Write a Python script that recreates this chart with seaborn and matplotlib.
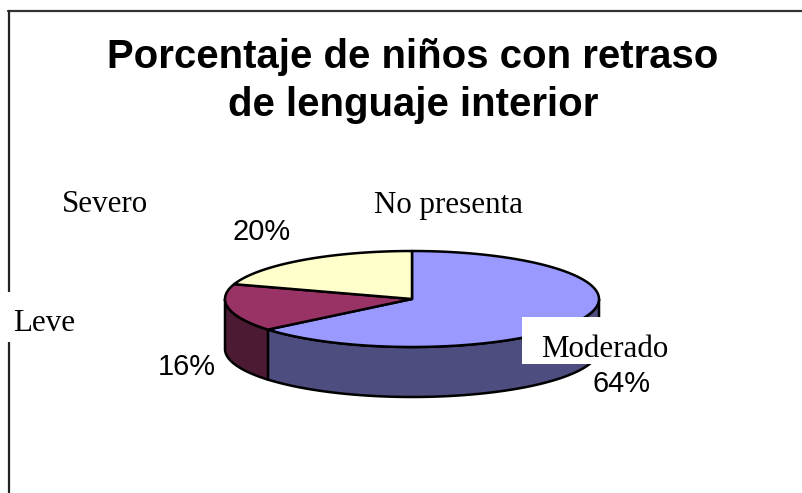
import numpy as np
import matplotlib
matplotlib.use("Agg")
import matplotlib.pyplot as plt
import seaborn as sns
from matplotlib.patches import Polygon, Rectangle
from matplotlib.lines import Line2D

# ---- data ----
categories = ["No presenta", "Moderado", "Leve", "Severo"]
values = [0, 64, 16, 20]
pct_labels = ["", "64%", "16%", "20%"]
top_colors = ["#9999FF", "#9999FF", "#993366", "#FFFFCC"]
side_colors = ["#4D4D80", "#4D4D80", "#4D1A33", "#80806A"]
title_lines = ["Porcentaje de niños con retraso", "de lenguaje interior"]

sns.set_theme(style="white")
plt.rcParams["font.family"] = ["Liberation Sans", "DejaVu Sans"]
plt.rcParams["text.color"] = "black"

W, H = 802, 493
fig = plt.figure(figsize=(W / 100, H / 100), dpi=100)
ax = fig.add_axes([0, 0, 1, 1])
ax.set_xlim(0, W)
ax.set_ylim(H, 0)
ax.axis("off")

# pie geometry (pixel space)
cx, cy, a, b, depth = 412, 299, 187, 48, 50


def pt(t, dy=0.0):
    r = np.deg2rad(t)
    return cx + a * np.cos(r), cy - b * np.sin(r) + dy


total = float(sum(values))
start = 90.0
angles = []
for v in values:
    sweep = 360.0 * v / total
    angles.append((start, start - sweep))
    start -= sweep

lw = 1.8
# side walls (front half: 180..360 deg)
for (t0, t1), col in zip(angles, side_colors):
    if t0 == t1:
        continue
    lo, hi = t1, t0
    for shift in (0, 360, -360):
        l2, h2 = lo + shift, hi + shift
        fl, fh = max(l2, 180), min(h2, 360)
        if fl < fh:
            ts = np.linspace(fl, fh, 100)
            top = [pt(t) for t in ts]
            bot = [pt(t, depth) for t in ts[::-1]]
            ax.add_patch(Polygon(top + bot, closed=True, facecolor=col,
                                 edgecolor="black", lw=lw, zorder=2))

# top wedges
for (t0, t1), col in zip(angles, top_colors):
    if t0 == t1:
        continue
    ts = np.linspace(t0, t1, 150)
    poly = [(cx, cy)] + [pt(t) for t in ts]
    ax.add_patch(Polygon(poly, closed=True, facecolor=col, edgecolor="black",
                         lw=lw, joinstyle="round", zorder=3))

# frame lines
ax.add_line(Line2D([7.5, W], [11, 11], color="#333333", lw=1.6, zorder=1))
ax.add_line(Line2D([8.5, 8.5], [11, H], color="#222222", lw=1.6, zorder=1))

# title
ax.text(413, 68, title_lines[0], ha="center", va="baseline", fontsize=28.9,
        fontweight="bold", family="Liberation Sans", color="black", zorder=5)
ax.text(413, 116, title_lines[1], ha="center", va="baseline", fontsize=28.9,
        fontweight="bold", family="Liberation Sans", color="black", zorder=5)

# label layout
name_pos = {"No presenta": (449, 213, "center"), "Moderado": (605, 357, "center"),
            "Leve": (44, 331, "center"), "Severo": (105, 212, "center")}
pct_pos = {"Moderado": (622, 392), "Leve": (187, 375), "Severo": (262, 240)}
boxes = {"Moderado": (522, 317, 158, 47), "Leve": (6, 292, 75, 50)}

for cat, pl in zip(categories, pct_labels):
    if cat in boxes:
        x0, y0, w, h = boxes[cat]
        ax.add_patch(Rectangle((x0, y0), w, h, facecolor="white",
                               edgecolor="none", zorder=4))
    x, y, ha = name_pos[cat]
    ax.text(x, y, cat, ha=ha, va="baseline", fontsize=22.3,
            family="Liberation Serif", color="black", zorder=5)
    if pl:
        px, py = pct_pos[cat]
        ax.text(px, py, pl, ha="center", va="baseline", fontsize=20.9,
                family="Liberation Sans", color="black", zorder=5)

fig.savefig("out.png", dpi=100)
